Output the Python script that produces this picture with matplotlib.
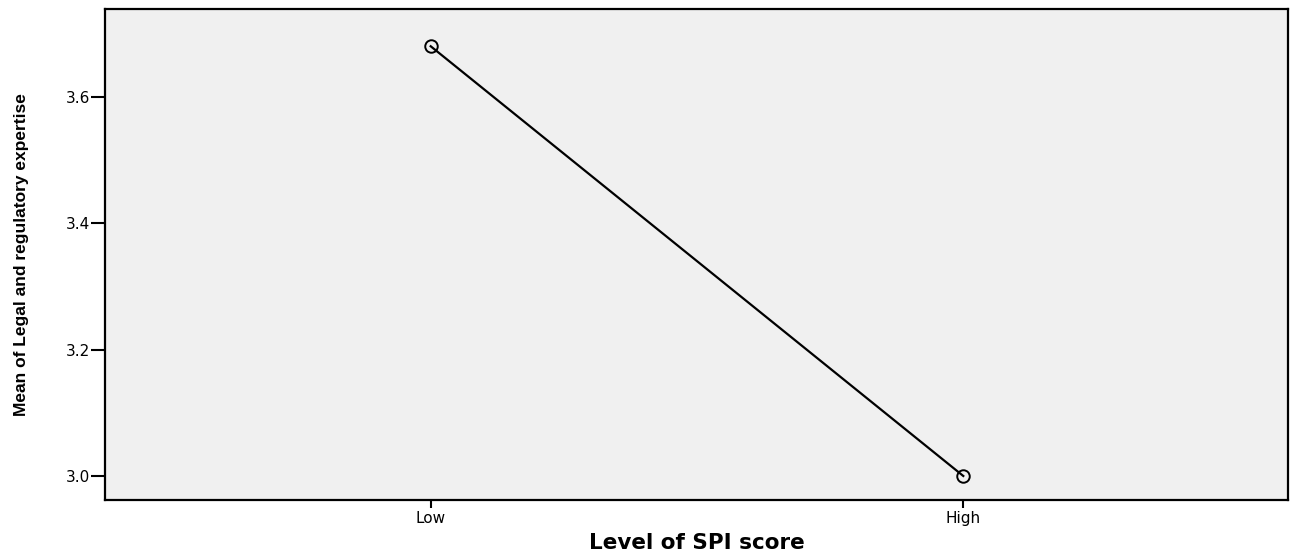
import matplotlib
matplotlib.use("Agg")
import matplotlib.pyplot as plt

levels = ["Low", "High"]
means = [3.68, 3.0]
yticks = [3.0, 3.2, 3.4, 3.6]

fig = plt.figure(figsize=(12.95, 5.54), dpi=100)
ax = fig.add_axes([0.0811, 0.0975, 0.9135, 0.8863])
ax.set_facecolor("#f0f0f0")

x = list(range(len(levels)))
ax.plot(x, means, color="black", linewidth=1.6, marker="o", markersize=9,
        markerfacecolor="none", markeredgecolor="black", markeredgewidth=1.4)

ax.set_xlim(-0.6115, 1.6097)
ax.set_ylim(2.962, 3.739)
ax.set_xticks(x)
ax.set_xticklabels(levels, fontsize=11, family="DejaVu Sans")
ax.set_yticks(yticks)
ax.set_yticklabels(["%.1f" % v for v in yticks], fontsize=11, family="DejaVu Sans")
ax.tick_params(axis="y", length=10, width=1.5, pad=0.5)
ax.tick_params(axis="x", length=6, width=1.5, pad=2)

for s in ax.spines.values():
    s.set_linewidth(1.6)
    s.set_color("black")

ax.set_xlabel("Level of SPI score", fontsize=15.5, fontweight="bold",
              family="DejaVu Sans", labelpad=5)
ax.set_ylabel("Mean of Legal and regulatory expertise", fontsize=12.5,
              fontweight="bold", family="Liberation Sans", labelpad=27)

fig.savefig("out.png", dpi=100)
